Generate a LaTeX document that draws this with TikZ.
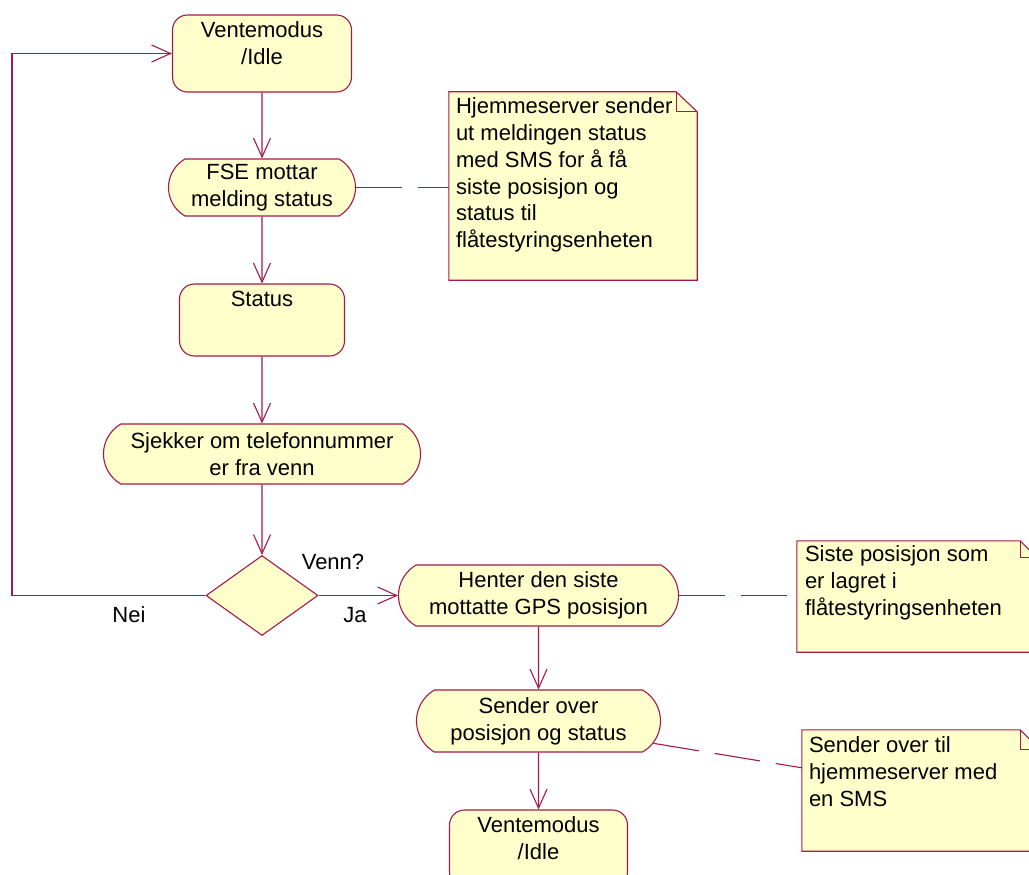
\documentclass[tikz,border=0pt]{standalone}
\usepackage{fontspec}
\setmainfont{Liberation Sans}
\usetikzlibrary{arrows.meta,shapes.misc,shapes.geometric,calc}
\definecolor{umlline}{RGB}{165,25,75}
\definecolor{umlfill}{RGB}{255,255,204}
\begin{document}
\begin{tikzpicture}[x=1pt,y=-1pt,
  every node/.style={font=\fontsize{22}{27}\selectfont, text=black},
  flow/.style={draw=umlline, line width=1.1pt,
    -{Straight Barb[length=19pt,width=17pt]}},
  statebox/.style={rectangle, draw=umlline, fill=umlfill, line width=1.1pt,
    rounded corners=15pt, inner sep=0pt},
  activity/.style={rounded rectangle, rounded rectangle arc length=120,
    draw=umlline, fill=umlfill, line width=1.1pt, align=center, inner sep=0pt},
  decision/.style={diamond, draw=umlline, fill=umlfill, line width=1.1pt,
    inner sep=0pt},
  notebody/.style={rectangle, inner sep=0pt, draw=none},
  noteline/.style={draw=umlline, fill=umlfill, line width=1.1pt},
  foldline/.style={draw=umlline, line width=1.1pt},
  notetext/.style={align=left, inner sep=0pt, anchor=north west,
    font=\fontsize{22}{26.7}\selectfont},
  notelink/.style={draw=umlline, line width=1.1pt, dash pattern=on 46pt off 16pt},
  statetext/.style={align=center, anchor=north, inner sep=0pt}
]
\path[use as bounding box] (0,0) rectangle (1029,875);
\clip (0,0) rectangle (1029,875);

% left column: receiving the status request
\node[statebox, minimum width=179pt, minimum height=77pt] (vm1) at (262,53.5) {};
\node[statetext] (vm1t) at ($(vm1.north)+(0,7)$) {Ventemodus\\/Idle};
\node[activity, minimum width=187pt, minimum height=57pt] (fse) at (262,187.5)
  {FSE mottar\\melding status};
\node[statebox, minimum width=165pt, minimum height=72pt] (status) at (262,320) {};
\node[statetext] (statust) at ($(status.north)+(0,7)$) {Status};
\node[activity, minimum width=317pt, minimum height=60pt] (sjekk) at (262,454)
  {Sjekker om telefonnummer\\er fra venn};
\node[decision, minimum width=112pt, minimum height=80pt] (dec) at (262,595.5) {};

% right column: answering with the position
\node[activity, minimum width=280pt, minimum height=61pt] (hent) at (538.5,595.5)
  {Henter den siste\\mottatte GPS posisjon};
\node[activity, minimum width=244pt, minimum height=62pt] (send) at (538.5,721)
  {Sender over\\posisjon og status};
\node[statebox, minimum width=178pt, minimum height=77pt] (vm2) at (538.5,848.5) {};
\node[statetext] (vm2t) at ($(vm2.north)+(0,7)$) {Ventemodus\\/Idle};

% notes with folded corner
\node[notebody, minimum width=248pt, minimum height=188pt] (n1) at (573,186) {};
\path[noteline] (n1.north west) -- ($(n1.north east)+(-21,0)$)
  -- ($(n1.north east)+(0,20)$) -- (n1.south east) -- (n1.south west) -- cycle;
\draw[foldline] ($(n1.north east)+(-21,0)$) |- ($(n1.north east)+(0,20)$);
\node[notetext] (n1t) at ($(n1.north west)+(7,6)$)
  {Hjemmeserver sender\\ut meldingen status\\med SMS for å få\\siste posisjon og\\status til\\flåtestyringsenheten};

\node[notebody, minimum width=240pt, minimum height=111pt] (n2) at (917,596.5) {};
\path[noteline] (n2.north west) -- ($(n2.north east)+(-17,0)$)
  -- ($(n2.north east)+(0,17)$) -- (n2.south east) -- (n2.south west) -- cycle;
\draw[foldline] ($(n2.north east)+(-17,0)$) |- ($(n2.north east)+(0,17)$);
\node[notetext] (n2t) at ($(n2.north west)+(8,5)$)
  {Siste posisjon som\\er lagret i\\flåtestyringsenheten};

\node[notebody, minimum width=238pt, minimum height=121pt] (n3) at (921,790.5) {};
\path[noteline] (n3.north west) -- ($(n3.north east)+(-20,0)$)
  -- ($(n3.north east)+(0,20)$) -- (n3.south east) -- (n3.south west) -- cycle;
\draw[foldline] ($(n3.north east)+(-20,0)$) |- ($(n3.north east)+(0,20)$);
\node[notetext] (n3t) at ($(n3.north west)+(7,7)$)
  {Sender over til\\hjemmeserver med\\en SMS};

% transitions
\coordinate (loopc) at (12,53.5);
\draw[flow] (vm1) -- (fse);
\draw[flow] (fse) -- (status);
\draw[flow] (status) -- (sjekk);
\draw[flow] (sjekk) -- (dec);
\draw[flow] (dec.west) -| (loopc) -- (vm1.west);
\draw[flow] (dec.east) -- (hent.west);
\draw[flow] (hent) -- (send);
\draw[flow] (send) -- (vm2);

% guard labels
\node (venn) at (333,562) {Venn?};
\node (nei) at (129,615) {Nei};
\node (ja) at (355,615) {Ja};

% note anchors
\draw[notelink] (fse.east) -- (fse.east -| n1.west);
\draw[notelink] (hent.east) -- (hent.east -| n2.west);
\draw[notelink] (send.-11) -- ($(n3.north west)+(0,38)$);
\end{tikzpicture}
\end{document}
